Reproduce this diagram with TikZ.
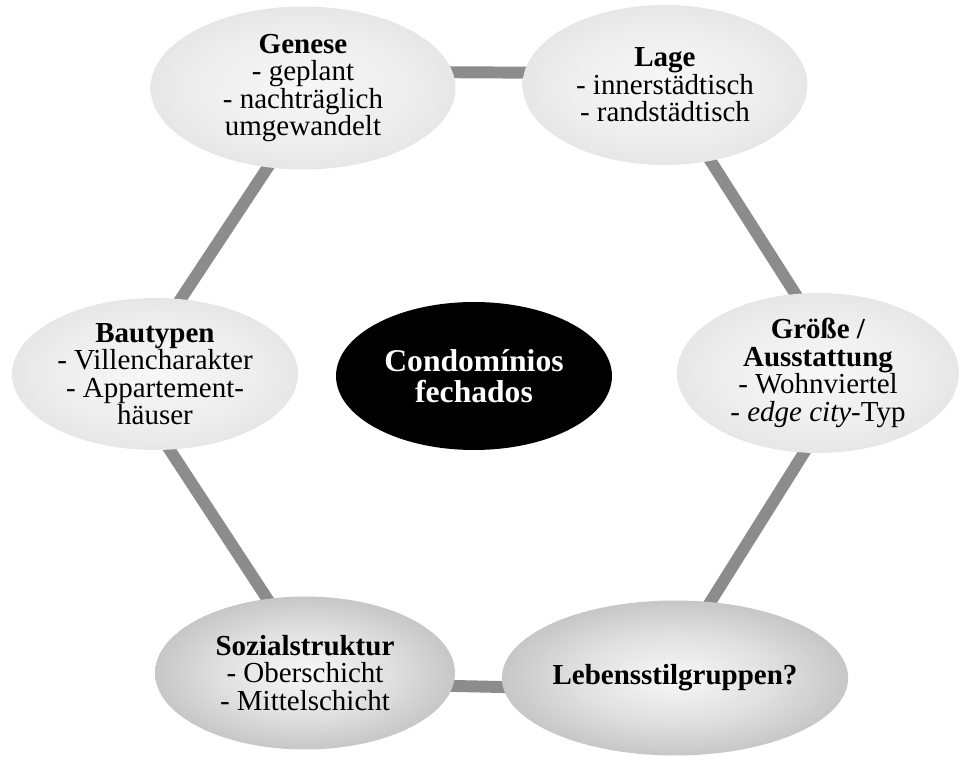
\documentclass[tikz,border=0pt]{standalone}
\usepackage{fontspec}
\setmainfont{Liberation Serif}
\usetikzlibrary{shapes.geometric,backgrounds}

% soft grey fills of the six outer ellipses
\pgfdeclareradialshading{paleblob}{\pgfpoint{0bp}{0bp}}{color(0bp)=(black!3); color(18bp)=(black!7); color(50bp)=(black!19)}
\pgfdeclareradialshading{darkblob}{\pgfpoint{0bp}{0bp}}{color(0bp)=(black!3); color(14bp)=(black!12); color(50bp)=(black!45)}

\tikzset{
	aspect/.style={ellipse, inner sep=0pt, align=center, shade, shading=paleblob,
		font=\fontsize{16.5}{15.6}\selectfont},
	aspectdark/.style={aspect, shading=darkblob},
	core/.style={ellipse, inner sep=0pt, align=center, fill=black, text=white,
		font=\bfseries\fontsize{18}{18}\selectfont},
	link/.style={line width=6.8pt, black!45, shorten <=-8pt, shorten >=-8pt},
}

\begin{document}
\begin{tikzpicture}[x=0.02cm, y=-0.02cm]
	\useasboundingbox (0,0) rectangle (965,760);

	\node[core, minimum width=5.52cm, minimum height=2.96cm] (condo) at (474,376) {Condomínios\\fechados};

	\node[aspect, minimum width=6.1cm, minimum height=3.26cm] (genese) at (303,88)
		{\textbf{Genese}\\- geplant\\- nachträglich\\umgewandelt};
	\node[aspect, minimum width=5.7cm, minimum height=3.2cm] (lage) at (665,85)
		{\textbf{Lage}\\- innerstädtisch\\- randstädtisch};
	\node[aspect, minimum width=5.64cm, minimum height=3.2cm] (groesse) at (818,373)
		{\textbf{Größe /}\\\textbf{Ausstattung}\\- Wohnviertel\\- \textit{edge city}-Typ};
	\node[aspectdark, minimum width=6cm, minimum height=3.1cm] (leben) at (675,678)
		{\textbf{Lebensstilgruppen?}};
	\node[aspectdark, minimum width=6cm, minimum height=3.06cm] (sozial) at (305,673)
		{\textbf{Sozialstruktur}\\- Oberschicht\\- Mittelschicht};
	\node[aspect, minimum width=5.72cm, minimum height=3.04cm] (bautypen) at (155,374)
		{\textbf{Bautypen}\\- Villencharakter\\- Appartement-\\häuser};

	% grey ring behind the ellipses
	\begin{pgfonlayer}{background}
		\draw[link] (genese.6) -- (lage.175);
		\draw[link] (lage.-59) -- (groesse.106);
		\draw[link] (groesse.-100) -- (leben.65);
		\draw[link] (leben.183) -- (sozial.-5);
		\draw[link] (sozial.117) -- (bautypen.-79);
		\draw[link] (bautypen.71) -- (genese.-114);
	\end{pgfonlayer}
\end{tikzpicture}
\end{document}
